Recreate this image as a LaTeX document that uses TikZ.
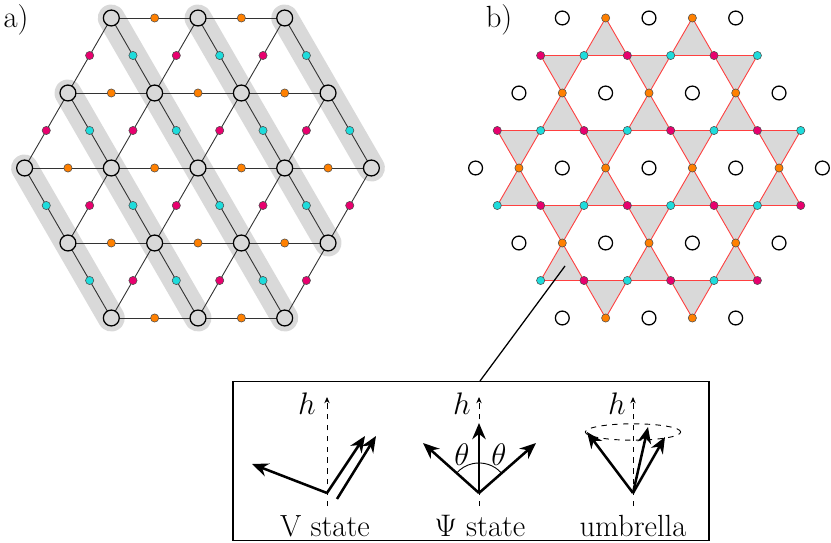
\documentclass[tikz,border=0pt]{standalone}
\usetikzlibrary{arrows.meta,calc}
\definecolor{dotorange}{RGB}{255,128,0}
\definecolor{dotmag}{RGB}{232,0,110}
\definecolor{dotcyan}{RGB}{30,220,220}
\definecolor{trigrey}{RGB}{217,217,217}
\tikzset{
  vert/.style={circle,draw,fill=trigrey,line width=0.7pt,minimum size=0.31cm,inner sep=0},
  hole/.style={circle,draw,line width=0.7pt,minimum size=0.27cm,inner sep=0},
  dot/.style={circle,draw=black!70,line width=0.3pt,minimum size=0.16cm,inner sep=0},
  odot/.style={dot,fill=dotorange},
  mdot/.style={dot,fill=dotmag},
  cdot/.style={dot,fill=dotcyan},
  bond/.style={line width=0.5pt,black!80},
  band/.style={line width=15pt,trigrey,line cap=round},
  kag/.style={fill=trigrey,draw=red!75,line width=0.5pt,line join=round},
  spin/.style={line width=1.4pt,-{Stealth[length=9pt,width=7.5pt]}},
  axis/.style={dashed,line width=0.5pt,-{Stealth[length=3.5pt,width=3pt]}}
}
\begin{document}
\begin{tikzpicture}[x=0.0195cm,y=-0.0195cm,font=\fontsize{17}{20}\selectfont]
\useasboundingbox (0,0) rectangle (831,543);

%lattice points
\foreach \i in {-2,...,2}{\foreach \j in {-2,...,2}{
  \pgfmathtruncatemacro\ok{abs(\i+\j)<=2}
  \ifnum\ok=1
    \coordinate (v\i\j) at ({198+86.7*\i+43.35*\j},{168+75*\j});
    \coordinate (w\i\j) at ({649+86.7*\i+43.35*\j},{168+75*\j});
  \fi}}

\node (la) at (16,20) {a)};
\node (lb) at (499,20) {b)};

%bands
\foreach \i/\lo/\hi in {-2/0/2,-1/-1/2,0/-2/2,1/-2/1,2/-2/0}
  \draw[band] (v\i\lo) -- (v\i\hi);

%bonds of a)
\foreach \i in {-2,...,2}{\foreach \j in {-2,...,2}{
  \pgfmathtruncatemacro\ip{\i+1}
  \pgfmathtruncatemacro\im{\i-1}
  \pgfmathtruncatemacro\jp{\j+1}
  \ifcsname pgf@sh@ns@v\i\j\endcsname
    \ifcsname pgf@sh@ns@v\ip\j\endcsname
      \draw[bond] (v\i\j) -- (v\ip\j) node[midway,odot] (ah\i\j) {};
    \fi
    \ifcsname pgf@sh@ns@v\i\jp\endcsname
      \draw[bond] (v\i\j) -- (v\i\jp) node[midway,cdot] (ac\i\j) {};
    \fi
    \ifcsname pgf@sh@ns@v\im\jp\endcsname
      \draw[bond] (v\i\j) -- (v\im\jp) node[midway,mdot] (am\i\j) {};
    \fi
  \fi}}

%kagome triangles of b)
\foreach \i in {-2,...,2}{\foreach \j in {-2,...,2}{
  \pgfmathtruncatemacro\ip{\i+1}
  \pgfmathtruncatemacro\jp{\j+1}
  \ifcsname pgf@sh@ns@w\ip\j\endcsname
  \ifcsname pgf@sh@ns@w\i\jp\endcsname
    \ifcsname pgf@sh@ns@w\i\j\endcsname
      \draw[kag] ($(w\i\j)!.5!(w\ip\j)$) -- ($(w\i\j)!.5!(w\i\jp)$) -- ($(w\ip\j)!.5!(w\i\jp)$) -- cycle;
    \fi
    \ifcsname pgf@sh@ns@w\ip\jp\endcsname
      \draw[kag] ($(w\ip\j)!.5!(w\i\jp)$) -- ($(w\ip\j)!.5!(w\ip\jp)$) -- ($(w\i\jp)!.5!(w\ip\jp)$) -- cycle;
    \fi
  \fi\fi}}

%sites of b)
\foreach \i in {-2,...,2}{\foreach \j in {-2,...,2}{
  \pgfmathtruncatemacro\ip{\i+1}
  \pgfmathtruncatemacro\im{\i-1}
  \pgfmathtruncatemacro\jp{\j+1}
  \ifcsname pgf@sh@ns@w\i\j\endcsname
    \ifcsname pgf@sh@ns@w\ip\j\endcsname
      \node[odot] (bh\i\j) at ($(w\i\j)!.5!(w\ip\j)$) {};
    \fi
    \ifcsname pgf@sh@ns@w\i\jp\endcsname
      \node[cdot] (bc\i\j) at ($(w\i\j)!.5!(w\i\jp)$) {};
    \fi
    \ifcsname pgf@sh@ns@w\im\jp\endcsname
      \node[mdot] (bm\i\j) at ($(w\i\j)!.5!(w\im\jp)$) {};
    \fi
  \fi}}

%vertices
\foreach \i in {-2,...,2}{\foreach \j in {-2,...,2}{
  \ifcsname pgf@sh@ns@v\i\j\endcsname
    \node[vert] (p\i\j) at (v\i\j) {};
    \node[hole] (q\i\j) at (w\i\j) {};
  \fi}}

%inset
\node[draw,line width=0.7pt,minimum width=9.28cm,minimum height=3.1cm,inner sep=0] (box) at (471,461) {};
\coordinate (tip) at (565,266);
\coordinate (boxtop) at (480,381);
\draw[line width=0.7pt] (tip) -- (boxtop);

%V state
\coordinate (vo) at (327,493);
\draw[axis] (327,506) -- (327,397);
\node (hv) at (307,404) {$h$};
\draw[spin] (vo) -- (252,464);
\draw[spin] (vo) -- (365,436);
\draw[spin] (337,499) -- (376,436);
\node (vs) at (325,526) {V state};

%Psi state
\coordinate (po) at (479,493);
\draw[axis] (479,506) -- (479,397);
\node (hp) at (462,404) {$h$};
\draw[line width=0.5pt] (501.3,472.9) arc[start angle=42,end angle=138,radius=0.585cm];
\draw[spin] (po) -- (479,423);
\draw[spin] (po) -- (423,443);
\draw[spin] (po) -- (536,443);
\node (t1) at (462,455) {$\theta$};
\node (t2) at (499,455) {$\theta$};
\node (ps) at (480,526) {$\Psi$ state};

%umbrella
\coordinate (uo) at (633,493);
\draw[axis] (633,506) -- (633,397);
\node (hu) at (617,404) {$h$};
\draw[dashed,line width=0.5pt] (633,432) ellipse[x radius=0.93cm,y radius=0.16cm];
\draw[spin] (uo) -- (587,432);
\draw[spin] (uo) -- (648,427);
\draw[spin] (uo) -- (665,437);
\node (um) at (633,526) {umbrella};
\end{tikzpicture}
\end{document}
